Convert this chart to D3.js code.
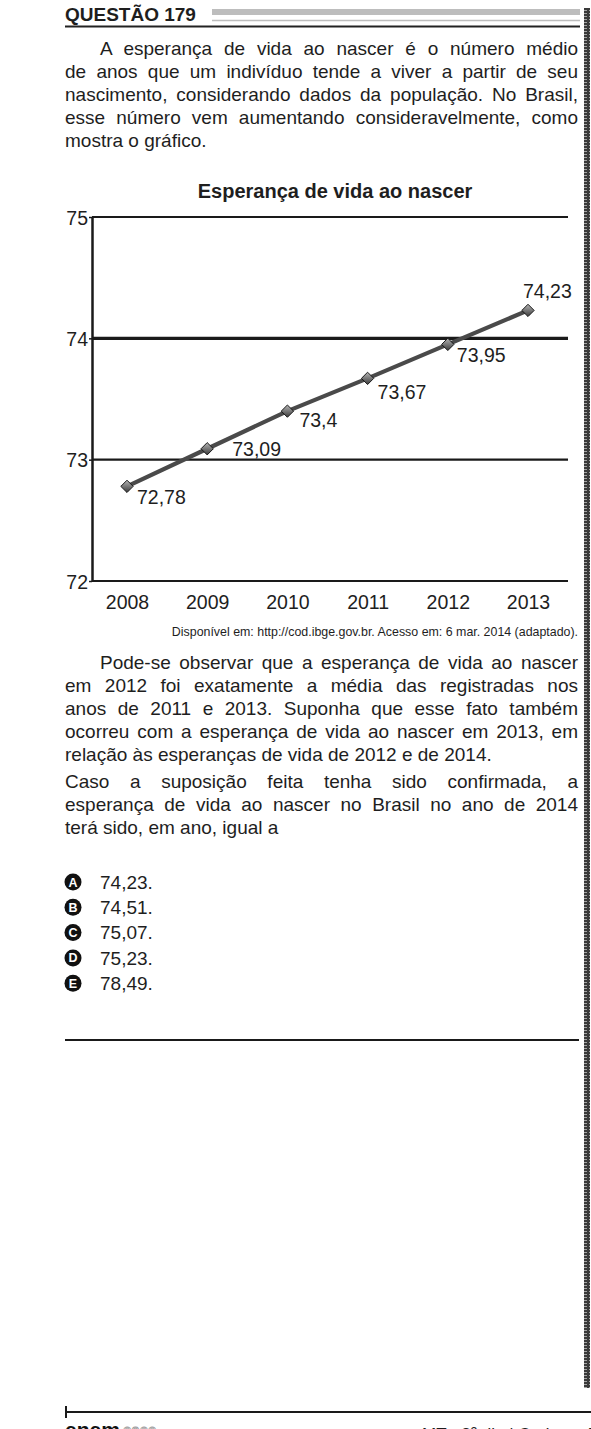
<!DOCTYPE html>
<html lang="pt">
<head>
<meta charset="UTF-8">
<script src="https://cdn.jsdelivr.net/npm/d3@7"></script>
<title>Esperança de vida ao nascer</title>
<style>
  body { margin: 0; background: #fff; }
  svg { display: block; font-family: "Liberation Sans", Arial, Helvetica, sans-serif; }
  .txt { font-size: 19px; fill: #1e1e1e; }
  .tick text { font-size: 19.5px; fill: #1e1e1e; font-family: "Liberation Sans", Arial, sans-serif; }
</style>
</head>
<body>
<svg width="591" height="1429"></svg>
<script>
// chart data
var years = [2008, 2009, 2010, 2011, 2012, 2013];
var lifeExp = [72.78, 73.09, 73.4, 73.67, 73.95, 74.23];
var valueLabels = ["72,78", "73,09", "73,4", "73,67", "73,95", "74,23"];
var yTicks = [72, 73, 74, 75];

// question text, one entry per printed line ([text, justified])
var intro = [
    ["A esperança de vida ao nascer é o número médio", true],
    ["de anos que um indivíduo tende a viver a partir de seu", true],
    ["nascimento, considerando dados da população. No Brasil,", true],
    ["esse número vem aumentando consideravelmente, como", true],
    ["mostra o gráfico.", false]
];
var body1 = [
    ["Pode-se observar que a esperança de vida ao nascer", true],
    ["em 2012 foi exatamente a média das registradas nos", true],
    ["anos de 2011 e 2013. Suponha que esse fato também", true],
    ["ocorreu com a esperança de vida ao nascer em 2013, em", true],
    ["relação às esperanças de vida de 2012 e de 2014.", false]
];
var body2 = [
    ["Caso a suposição feita tenha sido confirmada, a", true],
    ["esperança de vida ao nascer no Brasil no ano de 2014", true],
    ["terá sido, em ano, igual a", false]
];
var optionLetters = ["A", "B", "C", "D", "E"];
var optionValues = ["74,23.", "74,51.", "75,07.", "75,23.", "78,49."];

var svg = d3.select("svg");
var left = 65, right = 578, indent = 100, lineH = 23;

// pattern for the strip on the right border
var defs = svg.append("defs");
var pat = defs.append("pattern")
    .attr("id", "strip")
    .attr("width", 6).attr("height", 3)
    .attr("patternUnits", "userSpaceOnUse");
pat.append("rect").attr("width", 6).attr("height", 3).attr("fill", "#3a3a3a");
pat.append("rect").attr("x", 1).attr("y", 1).attr("width", 4).attr("height", 1).attr("fill", "#a5a5a5");

var grad = defs.append("linearGradient")
    .attr("id", "marker")
    .attr("x1", "0%").attr("y1", "0%").attr("x2", "100%").attr("y2", "100%");
grad.append("stop").attr("offset", "0%").attr("stop-color", "#b5b5b5");
grad.append("stop").attr("offset", "100%").attr("stop-color", "#3a3a3a");

svg.append("rect")
    .attr("x", 584).attr("y", 8)
    .attr("width", 6).attr("height", 1380)
    .attr("fill", "url(#strip)");

// header
svg.append("text")
    .attr("x", left).attr("y", 21)
    .style("font-size", "19px").style("font-weight", "bold").style("fill", "#1e1e1e")
    .text("QUESTÃO 179");
svg.append("rect")
    .attr("x", 212).attr("y", 9).attr("width", right + 2 - 212).attr("height", 6)
    .attr("fill", "#bdbdbd");
svg.append("line")
    .attr("x1", 212).attr("x2", right + 2).attr("y1", 20.5).attr("y2", 20.5)
    .attr("stroke", "#bdbdbd").attr("stroke-width", 1.5);
svg.append("line")
    .attr("x1", left).attr("x2", right + 2).attr("y1", 26.5).attr("y2", 26.5)
    .attr("stroke", "#222").attr("stroke-width", 2);

// draws a block of lines, stretching word gaps on justified lines
function paragraph(lines, y0, firstIndent) {
    var g = svg.append("g").attr("class", "txt");
    lines.forEach(function(l, i) {
        var x0 = (i == 0 && firstIndent) ? indent : left;
        var t = g.append("text")
            .attr("x", x0)
            .attr("y", y0 + i * lineH)
            .text(l[0]);
        if (l[1]) {
            var gaps = l[0].split(" ").length - 1;
            var w = t.node().getComputedTextLength();
            t.attr("word-spacing", (right - x0 - w) / gaps);
        }
    });
}

paragraph(intro, 55, true);

// chart
var x = d3.scalePoint().domain(years).range([127, 528]);
var y = d3.scaleLinear().domain([72, 75]).range([581, 217]);
var plotL = 92, plotR = 568;

svg.append("text")
    .attr("x", 335).attr("y", 198)
    .attr("text-anchor", "middle")
    .style("font-size", "20px").style("font-weight", "bold").style("fill", "#1e1e1e")
    .text("Esperança de vida ao nascer");

svg.append("g")
    .selectAll("line")
    .data(yTicks)
    .enter().append("line")
    .attr("x1", plotL).attr("x2", plotR)
    .attr("y1", function(d) { return y(d); })
    .attr("y2", function(d) { return y(d); })
    .attr("stroke", "#1a1a1a")
    .attr("stroke-width", function(d) { return d == 74 ? 3.2 : 2.2; });

var yAxis = svg.append("g")
    .attr("transform", "translate(" + plotL + ",0)")
    .call(d3.axisLeft(y).tickValues(yTicks).tickSize(3).tickSizeOuter(0).tickFormat(d3.format("d")));
yAxis.select(".domain").attr("stroke", "#1a1a1a").attr("stroke-width", 2.5);
yAxis.selectAll(".tick line").attr("stroke", "#1a1a1a").attr("stroke-width", 1.5);
yAxis.selectAll(".tick text").attr("x", -4).attr("dy", "0.36em");

var xAxis = svg.append("g")
    .attr("transform", "translate(0," + y(72) + ")")
    .call(d3.axisBottom(x).tickSize(0).tickFormat(d3.format("d")));
xAxis.select(".domain").remove();
xAxis.selectAll(".tick text").attr("y", 21).attr("dy", "0.36em");

var line = d3.line()
    .x(function(d, i) { return x(years[i]); })
    .y(function(d) { return y(d); });

svg.append("path")
    .datum(lifeExp)
    .attr("fill", "none")
    .attr("stroke", "#4a4a4a")
    .attr("stroke-width", 4.2)
    .attr("d", line);

svg.append("g")
    .selectAll("path")
    .data(lifeExp)
    .enter().append("path")
    .attr("d", d3.symbol().type(d3.symbolSquare).size(76))
    .attr("transform", function(d, i) {
        return "translate(" + x(years[i]) + "," + y(d) + ") rotate(45)";
    })
    .attr("fill", "url(#marker)")
    .attr("stroke", "#111")
    .attr("stroke-width", 0.9);

// label placement next to each point
var labelOffset = [[10, 18], [25, 7], [12, 16], [10, 21], [9, 18], [-5, -12]];
svg.append("g")
    .selectAll("text")
    .data(lifeExp)
    .enter().append("text")
    .attr("x", function(d, i) { return x(years[i]) + labelOffset[i][0]; })
    .attr("y", function(d, i) { return y(d) + labelOffset[i][1]; })
    .style("font-size", "19.5px")
    .style("fill", "#1e1e1e")
    .text(function(d, i) { return valueLabels[i]; });

svg.append("text")
    .attr("x", right).attr("y", 636)
    .attr("text-anchor", "end")
    .style("font-size", "12.4px").style("fill", "#1e1e1e")
    .text("Disponível em: http://cod.ibge.gov.br. Acesso em: 6 mar. 2014 (adaptado).");

paragraph(body1, 669, true);
paragraph(body2, 788, false);

// options
var opts = svg.append("g")
    .selectAll("g")
    .data(optionValues)
    .enter().append("g")
    .attr("transform", function(d, i) { return "translate(0," + (882 + i * 25.3) + ")"; });
opts.append("circle")
    .attr("cx", 73).attr("cy", 0).attr("r", 8.5)
    .attr("fill", "#111");
opts.append("text")
    .attr("x", 73).attr("y", 0).attr("dy", "0.36em")
    .attr("text-anchor", "middle")
    .style("font-size", "12.5px").style("font-weight", "bold").style("fill", "#fff")
    .text(function(d, i) { return optionLetters[i]; });
opts.append("text")
    .attr("x", 100).attr("y", 0).attr("dy", "0.36em")
    .attr("class", "txt")
    .text(function(d) { return d; });

svg.append("line")
    .attr("x1", left).attr("x2", right + 1).attr("y1", 1040).attr("y2", 1040)
    .attr("stroke", "#1a1a1a").attr("stroke-width", 2);

// footer
svg.append("line")
    .attr("x1", left).attr("x2", 591).attr("y1", 1412).attr("y2", 1412)
    .attr("stroke", "#1a1a1a").attr("stroke-width", 2);
svg.append("line")
    .attr("x1", left + 1).attr("x2", left + 1).attr("y1", 1406).attr("y2", 1418)
    .attr("stroke", "#1a1a1a").attr("stroke-width", 2);
svg.append("text")
    .attr("x", left).attr("y", 1437)
    .style("font-size", "21px").style("font-weight", "bold").style("fill", "#111")
    .text("enem");
svg.append("text")
    .attr("x", 123).attr("y", 1437)
    .style("font-size", "15px").style("fill", "none")
    .attr("stroke", "#999").attr("stroke-width", 0.8)
    .text("2022");
svg.append("text")
    .attr("x", 422).attr("y", 1440)
    .style("font-size", "17px").style("fill", "#1e1e1e")
    .text("MT - 2º dia | Caderno 7");
</script>
</body>
</html>
